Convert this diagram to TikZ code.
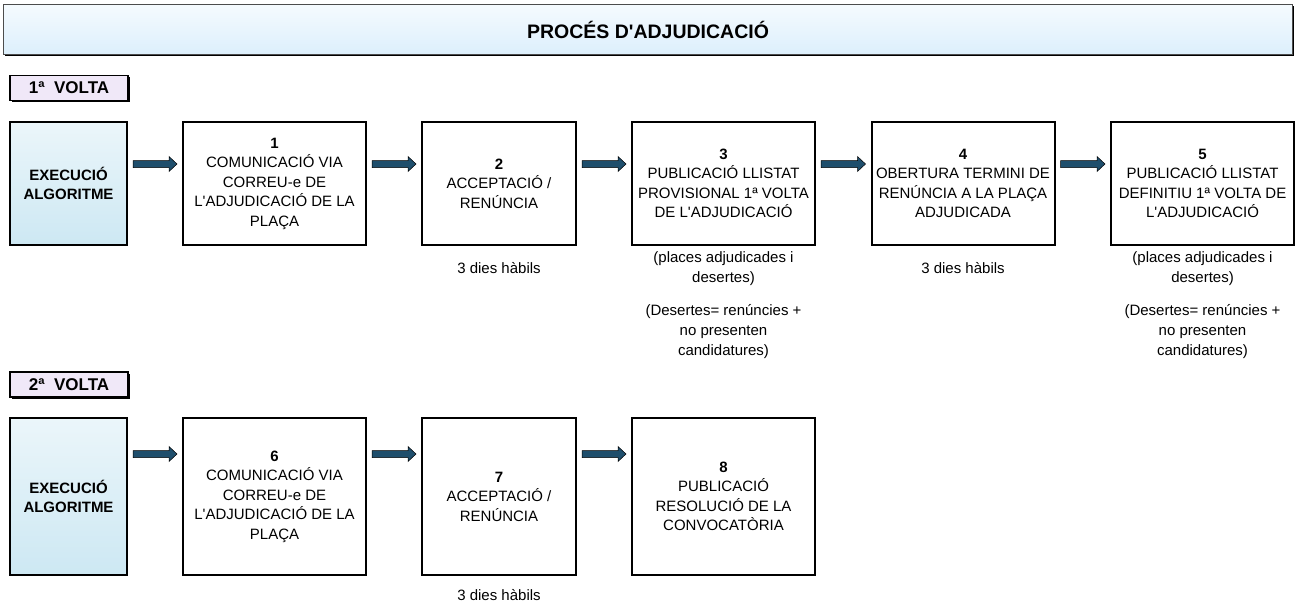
\documentclass[tikz,border=0pt]{standalone}
\usepackage{fontspec}
\setmainfont{Liberation Sans}
\usetikzlibrary{positioning, calc, shadows}
\definecolor{flowblue}{RGB}{30, 78, 108}
\definecolor{execblue}{RGB}{205, 232, 243}
\definecolor{titleblue}{RGB}{220, 239, 252}
\definecolor{voltalila}{RGB}{240, 232, 248}
\newcommand{\apos}{\textquotesingle}

\tikzset{
  boxtxt/.style={font=\fontsize{15}{19.5}\selectfont, align=center},
  stepbox/.style={boxtxt, draw, line width=2pt, fill=white,
    minimum width=183pt, minimum height=123pt, inner sep=1pt,
    drop shadow={shadow xshift=1.2pt, shadow yshift=-1.2pt, opacity=1, fill=black}},
  execbox/.style={stepbox, minimum width=117pt, top color=white!60!execblue,
    bottom color=execblue, font=\fontsize{15}{19.5}\selectfont\bfseries},
  voltabox/.style={draw, line width=1.5pt, fill=voltalila, minimum width=118pt,
    minimum height=25pt, font=\fontsize{17}{18}\selectfont\bfseries,
    drop shadow={shadow xshift=1.5pt, shadow yshift=-1.5pt, opacity=1, fill=black}},
  note/.style={boxtxt, inner sep=0pt, font=\fontsize{15}{20}\selectfont},
  flow/.style={draw=black, line width=0.5pt, fill=flowblue, to path={
    ($(\tikztostart)+(5,-3.5)$) -- ($(\tikztotarget)+(-13,-3.5)$)
    -- ($(\tikztotarget)+(-13,-7.5)$) -- ($(\tikztotarget)+(-5,0)$)
    -- ($(\tikztotarget)+(-13,7.5)$) -- ($(\tikztotarget)+(-13,3.5)$)
    -- ($(\tikztostart)+(5,3.5)$) -- cycle}}
}

\begin{document}
\begin{tikzpicture}[x=1pt, y=-1pt]
  \useasboundingbox (0,0) rectangle (1297,602);

  % title
  \node[draw=black!70, line width=1pt, minimum width=1289pt, minimum height=50pt,
    top color=white!70!titleblue, bottom color=titleblue,
    font=\fontsize{19.5}{22}\selectfont\bfseries,
    drop shadow={shadow xshift=1.2pt, shadow yshift=-1.5pt, opacity=1, fill=black}]
    (title) at (648,30) {PROCÉS D\apos ADJUDICACIÓ};

  % first round
  \node[voltabox] (volta1) at (69,88) {1ª~ VOLTA};
  \coordinate (r1) at (0,164);

  \node[execbox] (exec1) at (68.5,183.5) {EXECUCIÓ\\ALGORITME};
  \node[stepbox] (b1) at (274.5,183.5)
    {\textbf{1}\\COMUNICACIÓ VIA\\CORREU-e DE\\L\apos ADJUDICACIÓ DE LA\\PLAÇA};
  \node[stepbox, minimum width=154pt] (b2) at (499,183.5)
    {\textbf{2}\\ACCEPTACIÓ /\\RENÚNCIA};
  \node[stepbox] (b3) at (723.5,183.5)
    {\textbf{3}\\PUBLICACIÓ LLISTAT\\PROVISIONAL 1ª VOLTA\\DE L\apos ADJUDICACIÓ};
  \node[stepbox] (b4) at (963,183.5)
    {\textbf{4}\\OBERTURA TERMINI DE\\RENÚNCIA A LA PLAÇA\\ADJUDICADA};
  \node[stepbox] (b5) at (1202.5,183.5)
    {\textbf{5}\\PUBLICACIÓ LLISTAT\\DEFINITIU 1ª VOLTA DE\\L\apos ADJUDICACIÓ};

  \draw[flow] (exec1.east |- r1) to (b1.west |- r1);
  \draw[flow] (b1.east |- r1) to (b2.west |- r1);
  \draw[flow] (b2.east |- r1) to (b3.west |- r1);
  \draw[flow] (b3.east |- r1) to (b4.west |- r1);
  \draw[flow] (b4.east |- r1) to (b5.west |- r1);

  \node[note, below=16pt of b2] (d2) {3 dies hàbils};
  \node[note, below=5pt of b3] (p3) {(places adjudicades i\\desertes)};
  \node[note, below=19pt of p3] (q3) {(Desertes= renúncies +\\no presenten\\candidatures)};
  \node[note, below=16pt of b4] (d4) {3 dies hàbils};
  \node[note, below=5pt of b5] (p5) {(places adjudicades i\\desertes)};
  \node[note, below=19pt of p5] (q5) {(Desertes= renúncies +\\no presenten\\candidatures)};

  % second round
  \node[voltabox] (volta2) at (69,384.5) {2ª~ VOLTA};
  \coordinate (r2) at (0,454);

  \node[execbox, minimum height=157pt] (exec2) at (68.5,496.5) {EXECUCIÓ\\ALGORITME};
  \node[stepbox, minimum height=157pt] (b6) at (274.5,496.5)
    {\textbf{6}\\COMUNICACIÓ VIA\\CORREU-e DE\\L\apos ADJUDICACIÓ DE LA\\PLAÇA};
  \node[stepbox, minimum width=154pt, minimum height=157pt] (b7) at (499,496.5)
    {\textbf{7}\\ACCEPTACIÓ /\\RENÚNCIA};
  \node[stepbox, minimum height=157pt] (b8) at (723.5,496.5)
    {\textbf{8}\\PUBLICACIÓ\\RESOLUCIÓ DE LA\\CONVOCATÒRIA};

  \draw[flow] (exec2.east |- r2) to (b6.west |- r2);
  \draw[flow] (b6.east |- r2) to (b7.west |- r2);
  \draw[flow] (b7.east |- r2) to (b8.west |- r2);

  \node[note, below=13pt of b7] (d7) {3 dies hàbils};
\end{tikzpicture}
\end{document}
